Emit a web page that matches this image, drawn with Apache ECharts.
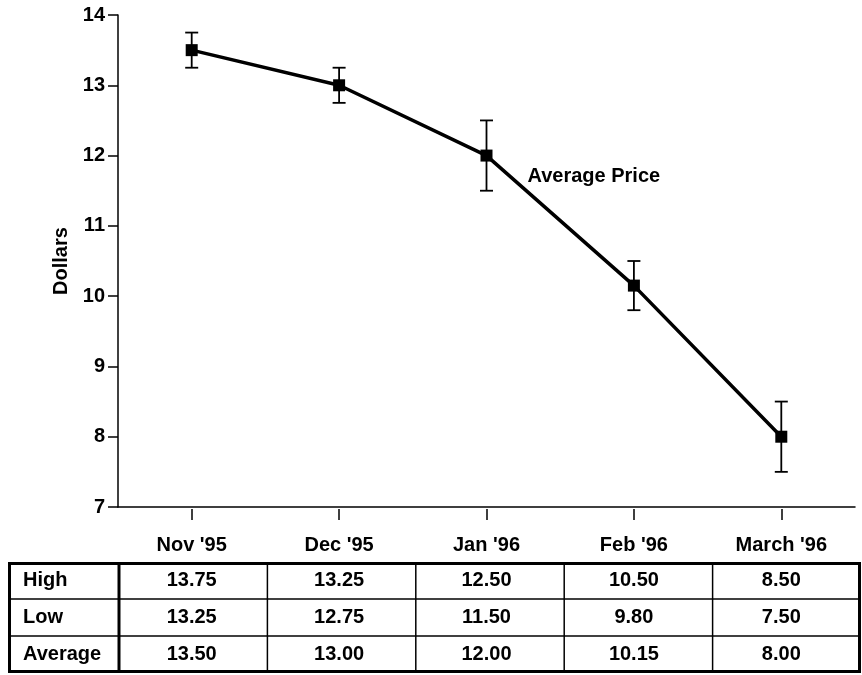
<!DOCTYPE html>
<html>
<head>
<meta charset="utf-8">
<script src="https://cdn.jsdelivr.net/npm/echarts@6/dist/echarts.min.js"></script>
<style>
html,body{margin:0;padding:0;background:#fff;}
#chart{width:862px;height:675px;}
</style>
</head>
<body>
<div id="chart"></div>
<script>
const categories = ["Nov '95", "Dec '95", "Jan '96", "Feb '96", "March '96"];
const high = [13.75, 13.25, 12.50, 10.50, 8.50];
const low = [13.25, 12.75, 11.50, 9.80, 7.50];
const average = [13.50, 13.00, 12.00, 10.15, 8.00];
const rowLabels = ['High', 'Low', 'Average'];
const rowValues = [high, low, average];
const yMin = 7, yMax = 14, yInterval = 1;
const seriesLabel = 'Average Price';
const yName = 'Dollars';

const FONT = 'Liberation Sans, Arial, sans-serif';
const FS = 20;
const chart = echarts.init(document.getElementById('chart'));

const option = {
  animation: false,
  backgroundColor: '#fff',
  grid: { left: 118, right: 7, top: 15, bottom: 168, containLabel: false },
  xAxis: [{
    type: 'category', data: categories, boundaryGap: true,
    axisLine: { show: true, lineStyle: { color: '#000', width: 1.5 } },
    axisTick: { show: false },
    axisLabel: { show: false },
    splitLine: { show: false }
  }, {
    type: 'category', data: categories, boundaryGap: true, position: 'bottom', offset: 2,
    axisLine: { show: false },
    axisTick: { show: true, alignWithLabel: true, length: 11, lineStyle: { color: '#000', width: 1.5 } },
    axisLabel: { show: true, margin: 26, color: '#000', fontFamily: FONT, fontWeight: 'bold', fontSize: FS },
    splitLine: { show: false }
  }],
  yAxis: {
    type: 'value', min: yMin, max: yMax, interval: yInterval,
    name: yName, nameLocation: 'middle', nameGap: 44, nameRotate: 90,
    nameTextStyle: { color: '#000', fontFamily: FONT, fontWeight: 'bold', fontSize: FS },
    axisLine: { show: true, lineStyle: { color: '#000', width: 1.5 } },
    axisTick: { show: true, length: 10, lineStyle: { color: '#000', width: 1.5 } },
    axisLabel: { margin: 13, color: '#000', fontFamily: FONT, fontWeight: 'bold', fontSize: FS },
    splitLine: { show: false }
  },
  series: [{
    type: 'custom',
    xAxisIndex: 0,
    z: 2,
    data: categories.map((c, i) => [i, low[i], high[i]]),
    renderItem: function (params, api) {
      const x = api.value(0);
      const lo = api.coord([x, api.value(1)]);
      const hi = api.coord([x, api.value(2)]);
      const w = 6.5;
      const st = { stroke: '#000', lineWidth: 1.8 };
      return {
        type: 'group',
        children: [
          { type: 'line', shape: { x1: hi[0], y1: hi[1], x2: lo[0], y2: lo[1] }, style: st },
          { type: 'line', shape: { x1: hi[0] - w, y1: hi[1], x2: hi[0] + w, y2: hi[1] }, style: st },
          { type: 'line', shape: { x1: lo[0] - w, y1: lo[1], x2: lo[0] + w, y2: lo[1] }, style: st }
        ]
      };
    }
  }, {
    type: 'line',
    name: seriesLabel,
    xAxisIndex: 0,
    z: 5,
    data: average,
    symbol: 'rect',
    symbolSize: 12,
    itemStyle: { color: '#000' },
    lineStyle: { color: '#000', width: 3.5 }
  }]
};
chart.setOption(option);

// Table beneath the chart
const T = { left: 8, right: 861, top: 562, bottom: 673, labelCol: 119 };
const rowH = (T.bottom - T.top) / rowLabels.length;
const colW = (T.right - T.labelCol) / categories.length;
const g = [];
const thick = { stroke: '#000', lineWidth: 3, fill: null };
const thin = { stroke: '#000', lineWidth: 1.5 };
g.push({ type: 'rect', shape: { x: T.left + 1.5, y: T.top + 1.5, width: T.right - T.left - 3, height: T.bottom - T.top - 3 }, style: thick, z: 10 });
g.push({ type: 'line', shape: { x1: T.labelCol, y1: T.top, x2: T.labelCol, y2: T.bottom }, style: { stroke: '#000', lineWidth: 3 }, z: 10 });
for (let r = 1; r < rowLabels.length; r++) {
  const y = T.top + r * rowH;
  g.push({ type: 'line', shape: { x1: T.left, y1: y, x2: T.right, y2: y }, style: thin, z: 10 });
}
for (let c = 1; c < categories.length; c++) {
  const x = T.labelCol + c * colW;
  g.push({ type: 'line', shape: { x1: x, y1: T.top, x2: x, y2: T.bottom }, style: thin, z: 10 });
}
rowLabels.forEach((lab, r) => {
  const cy = T.top + (r + 0.5) * rowH;
  g.push({ type: 'text', x: 23, y: cy, style: { text: lab, fill: '#000', font: 'bold ' + FS + 'px ' + FONT, textAlign: 'left', textVerticalAlign: 'middle' }, z: 11 });
  rowValues[r].forEach((v, i) => {
    const px = chart.convertToPixel({ xAxisIndex: 0 }, i);
    g.push({ type: 'text', x: px, y: cy, style: { text: v.toFixed(2), fill: '#000', font: 'bold ' + FS + 'px ' + FONT, textAlign: 'center', textVerticalAlign: 'middle' }, z: 11 });
  });
});
// series annotation
const janPt = chart.convertToPixel({ xAxisIndex: 0, yAxisIndex: 0 }, [2, average[2]]);
g.push({ type: 'text', x: janPt[0] + 41, y: janPt[1] + 21, style: { text: seriesLabel, fill: '#000', font: 'bold ' + FS + 'px ' + FONT, textAlign: 'left', textVerticalAlign: 'middle' }, z: 11 });

chart.setOption({ graphic: { elements: g } });
</script>
</body>
</html>
